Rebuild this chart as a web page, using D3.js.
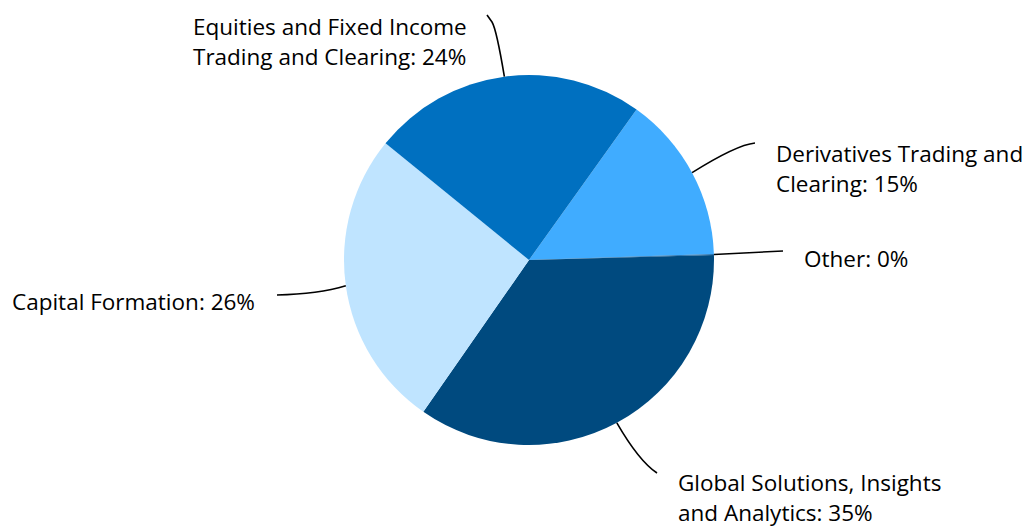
<!DOCTYPE html>
<html>
<head>
<meta charset="utf-8">
<script src="https://cdn.jsdelivr.net/npm/d3@7"></script>
<style>
  body { margin: 0; background: #fff; }
  text { font-family: "Open Sans", "Noto Sans", sans-serif; font-size: 22.5px; fill: #000; }
</style>
</head>
<body>
<svg id="chart" width="1027" height="527"></svg>
<script>
// segments in clockwise order, starting at the top-right
const segments = ["Derivatives Trading and Clearing", "Other", "Global Solutions, Insights and Analytics", "Capital Formation", "Equities and Fixed Income Trading and Clearing"]
const shares = [14.6, 0.1, 35.1, 26.2, 24.0]
const shown = ["15%", "0%", "35%", "26%", "24%"]
const colors = ["#40acff", "#1f6fb0", "#004a7f", "#bfe4ff", "#0070c0"]

// label text lines, anchor and leader end point (x, y)
const labelLines = [
  ["Derivatives Trading and", "Clearing: 15%"],
  ["Other: 0%"],
  ["Global Solutions, Insights", "and Analytics: 35%"],
  ["Capital Formation: 26%"],
  ["Equities and Fixed Income", "Trading and Clearing: 24%"]
]
const labelPos = [[776, 162], [804, 267], [678, 491], [12, 310], [193, 35]]
const leaderEnd = [[755, 143], [783, 251], [657, 473], [277, 295], [487, 15]]

const svg = d3.select("#chart")
const cx = 529, cy = 260, r = 185
const g = svg.append("g").attr("transform", `translate(${cx},${cy})`)

const pie = d3.pie().sort(null).value(d => d)
  .startAngle(35.55 * Math.PI / 180)
  .endAngle(35.55 * Math.PI / 180 + 2 * Math.PI)
const arcs = pie(shares)
const arc = d3.arc().innerRadius(0).outerRadius(r)

g.selectAll("path.slice")
  .data(arcs)
  .join("path")
    .attr("class", "slice")
    .attr("d", arc)
    .attr("fill", (d, i) => colors[i])

// leader lines: from the slice's outer edge mid point to the label
const edgePoint = d => {
  const a = (d.startAngle + d.endAngle) / 2
  return [cx + Math.sin(a) * r, cy - Math.cos(a) * r]
}
arcs.forEach((d, i) => {
  const [x0, y0] = edgePoint(d)
  const [x1, y1] = leaderEnd[i]
  const p = d3.path()
  p.moveTo(x0, y0)
  // slight bend near the label end
  let qx = x0 + (x1 - x0) * 0.6, qy = y0 + (y1 - y0) * 0.6
  if (i === 0) { qx = x0 + (x1 - x0) * 0.7; qy = y1 + 2 }
  if (i === 2) { qx = x0 + (x1 - x0) * 0.55; qy = y1 - 12 }
  if (i === 3) { qx = x0 + (x1 - x0) * 0.4; qy = y1 - 1 }
  if (i === 4) {
    // goes up, then hooks left at the top
    p.bezierCurveTo(x0 - 5, y0 - 30, x1 + 8, y1 + 12, x1 + 5, y1 + 7)
    p.lineTo(x1, y1)
  } else {
    p.quadraticCurveTo(qx, qy, x1, y1)
  }
  svg.append("path")
    .attr("d", p.toString())
    .attr("fill", "none")
    .attr("stroke", "#000")
    .attr("stroke-width", 1.6)
})

labelLines.forEach((lines, i) => {
  const t = svg.append("text")
    .attr("x", labelPos[i][0])
    .attr("y", labelPos[i][1])
  lines.forEach((ln, j) => {
    t.append("tspan")
      .attr("x", labelPos[i][0])
      .attr("dy", j === 0 ? 0 : 29.5)
      .text(ln)
  })
})
</script>
</body>
</html>
